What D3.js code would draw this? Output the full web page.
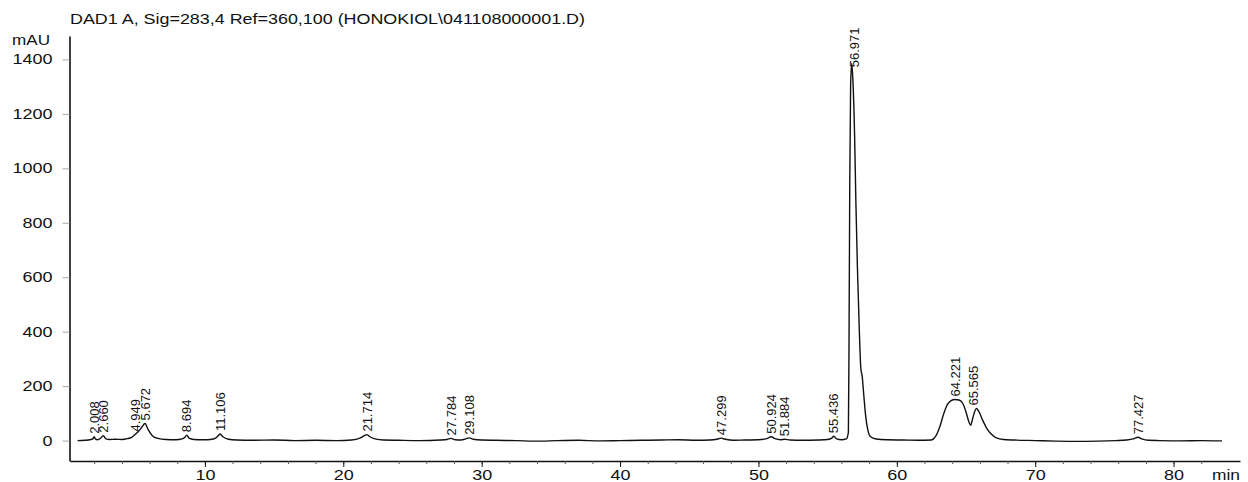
<!DOCTYPE html>
<html>
<head>
<meta charset="utf-8">
<script src="https://cdn.jsdelivr.net/npm/d3@7"></script>
<style>
  html, body { margin: 0; padding: 0; background: #fff; }
  svg { display: block; font-family: "Liberation Sans", Arial, sans-serif; }
</style>
</head>
<body>
<div id="chart"></div>
<script>
// Chromatogram trace (time in min, signal in mAU)
const traceTime = [
  0.8, 1.3, 1.7, 1.9, 2.0, 2.1, 2.25, 2.45, 2.66, 2.85, 3.1, 3.5, 4.0, 4.4, 4.7, 4.95,
  5.2, 5.45, 5.67, 5.9, 6.2, 6.6, 7.2, 7.9, 8.35, 8.55, 8.69, 8.85, 9.2, 9.8, 10.4,
  10.8, 11.0, 11.1, 11.3, 11.7, 12.3, 13.5, 15.0, 16.5, 18.0, 19.5, 20.6, 21.2,
  21.55, 21.71, 21.9, 22.3, 22.9, 24.0, 25.5, 27.0, 27.5, 27.78, 28.1, 28.5, 28.85,
  29.1, 29.4, 30.0, 31.0, 32.5, 34.0, 35.5, 37.0, 38.5, 40.0, 41.5, 43.0, 44.2,
  45.5, 46.5, 47.0, 47.3, 47.6, 48.2, 49.0, 50.0, 50.6, 50.92, 51.2, 51.6, 51.88,
  52.3, 53.2, 54.3, 55.0, 55.3, 55.44, 55.65, 56.0, 56.35, 56.5, 56.55, 56.6, 56.66,
  56.74, 56.82, 56.95, 57.04, 57.15, 57.28, 57.4, 57.5, 57.6, 57.75, 57.9, 58.1,
  58.5, 59.3, 60.5, 61.5, 62.5, 62.8, 63.1, 63.4, 63.65, 63.9, 64.2, 64.5, 64.75,
  65.0, 65.2, 65.34, 65.5, 65.75, 65.95, 66.2, 66.5, 66.8, 67.2, 67.7, 68.5, 70.0,
  71.5, 73.0, 74.5, 75.8, 76.6, 77.1, 77.43, 77.7, 78.2, 79.0, 80.5, 82.0, 83.5
];
const traceMAU = [
  0, 1, 3, 6, 14, 5, 3, 8, 18, 6, 4, 5, 4, 7, 12, 22,
  34, 50, 63, 40, 18, 8, 4, 3, 6, 12, 20, 9, 4, 3, 4,
  10, 20, 24, 14, 5, 2, 1, 2, 0, 1, 0, 2, 9,
  19, 22, 15, 6, 2, 1, 0, 2, 4, 8, 3, 2, 6,
  10, 5, 2, 1, 0, -2, 0, 1, -1, 0, 1, 2, 3,
  1, 2, 5, 9, 5, 1, 2, 3, 7, 14, 7, 3, 5,
  2, 1, 2, 4, 9, 16, 6, 3, 6, 30, 400, 950, 1300,
  1385, 1330, 1120, 880, 640, 420, 265, 235, 175, 90, 40, 14,
  6, 3, 2, 1, 2, 15, 50, 100, 132, 146, 151, 149, 138,
  105, 70, 56, 85, 118, 105, 75, 45, 25, 10, 4, 2, 0,
  -2, -3, -2, 0, 2, 6, 12, 6, 1, 0, -1, 0, -1
];

// Integrated peaks: retention times and apex heights (mAU)
const peakTimes = [2.008, 2.660, 4.949, 5.672, 8.694, 11.106, 21.714, 27.784, 29.108,
  47.299, 50.924, 51.884, 55.436, 56.971, 64.221, 65.565, 77.427];
const peakHeights = [14, 18, 22, 63, 20, 24, 22, 8, 10, 9, 14, 5, 16, 1360, 151, 118, 12];

const yTicks = [0, 200, 400, 600, 800, 1000, 1200, 1400];
const xTicks = [10, 20, 30, 40, 50, 60, 70, 80];
const xMinorTicks = d3.range(2, 84, 2);

const titleText = 'DAD1 A, Sig=283,4 Ref=360,100 (HONOKIOL\\041108000001.D)';
const yUnit = 'mAU';
const xUnit = 'min';

const width = 1248, height = 482;
const ink = '#111';

const svg = d3.select('#chart')
  .append('svg')
  .attr('width', width)
  .attr('height', height);

const x = d3.scaleLinear().domain([0.25, 84.8]).range([70, 1240]);
const y = d3.scaleLinear().domain([-75, 1486]).range([461, 36]);

// Scanned print is horizontally wide, so stretch text a little
const charW = 10;

// title
svg.append('text')
  .attr('x', 70)
  .attr('y', 24)
  .attr('fill', ink)
  .style('font-size', '14px')
  .attr('textLength', 515)
  .attr('lengthAdjust', 'spacingAndGlyphs')
  .text(titleText);

// y unit
svg.append('text')
  .attr('x', 12)
  .attr('y', 45)
  .attr('fill', ink)
  .style('font-size', '14px')
  .attr('textLength', 38)
  .attr('lengthAdjust', 'spacingAndGlyphs')
  .text(yUnit);

// y axis
const yAxis = svg.append('g')
  .attr('transform', 'translate(69.5,0)')
  .call(d3.axisLeft(y).tickValues(yTicks).tickFormat(d3.format('d'))
    .tickSize(7).tickSizeOuter(0).tickPadding(10));
yAxis.select('.domain').attr('stroke', ink).attr('stroke-width', 1.6);
yAxis.selectAll('.tick line').attr('stroke', '#aaa').attr('stroke-width', 1);
yAxis.selectAll('.tick text')
  .attr('fill', ink)
  .style('font-size', '14px')
  .attr('textLength', d => String(d).length * charW)
  .attr('lengthAdjust', 'spacingAndGlyphs');

// x axis: minor ticks, then labelled ticks
const xMinor = svg.append('g')
  .attr('transform', 'translate(0,461)')
  .call(d3.axisBottom(x).tickValues(xMinorTicks).tickSize(3).tickSizeOuter(0).tickFormat(''));
xMinor.select('.domain').attr('stroke', ink).attr('stroke-width', 1.6);
xMinor.selectAll('.tick line').attr('stroke', '#555');

const xAxis = svg.append('g')
  .attr('transform', 'translate(0,461)')
  .call(d3.axisBottom(x).tickValues(xTicks).tickSize(6).tickPadding(3));
xAxis.select('.domain').remove();
xAxis.selectAll('.tick line').attr('stroke', ink);
xAxis.selectAll('.tick text')
  .attr('fill', ink)
  .style('font-size', '14px')
  .attr('textLength', d => String(d).length * charW)
  .attr('lengthAdjust', 'spacingAndGlyphs');

svg.append('text')
  .attr('x', 1212)
  .attr('y', 480)
  .attr('fill', ink)
  .style('font-size', '14px')
  .attr('textLength', 28)
  .attr('lengthAdjust', 'spacingAndGlyphs')
  .text(xUnit);

// trace
const trace = traceTime.map((t, i) => ({ t: t, v: traceMAU[i] }));
const line = d3.line()
  .x(d => x(d.t))
  .y(d => y(d.v))
  .curve(d3.curveMonotoneX);

svg.append('path')
  .datum(trace)
  .attr('d', line)
  .attr('fill', 'none')
  .attr('stroke', ink)
  .attr('stroke-width', 1.4)
  .attr('stroke-linejoin', 'round');

// peak labels, rotated, sitting on each apex
const fmt = d3.format('.3f');
svg.append('g')
  .selectAll('text')
  .data(peakTimes)
  .enter()
  .append('text')
  .attr('transform', (d, i) => `translate(${x(d)},${y(peakHeights[i]) - 3}) rotate(-90)`)
  .attr('dy', '0.35em')
  .attr('fill', ink)
  .style('font-size', '13px')
  .text(d => fmt(d));
</script>
</body>
</html>
